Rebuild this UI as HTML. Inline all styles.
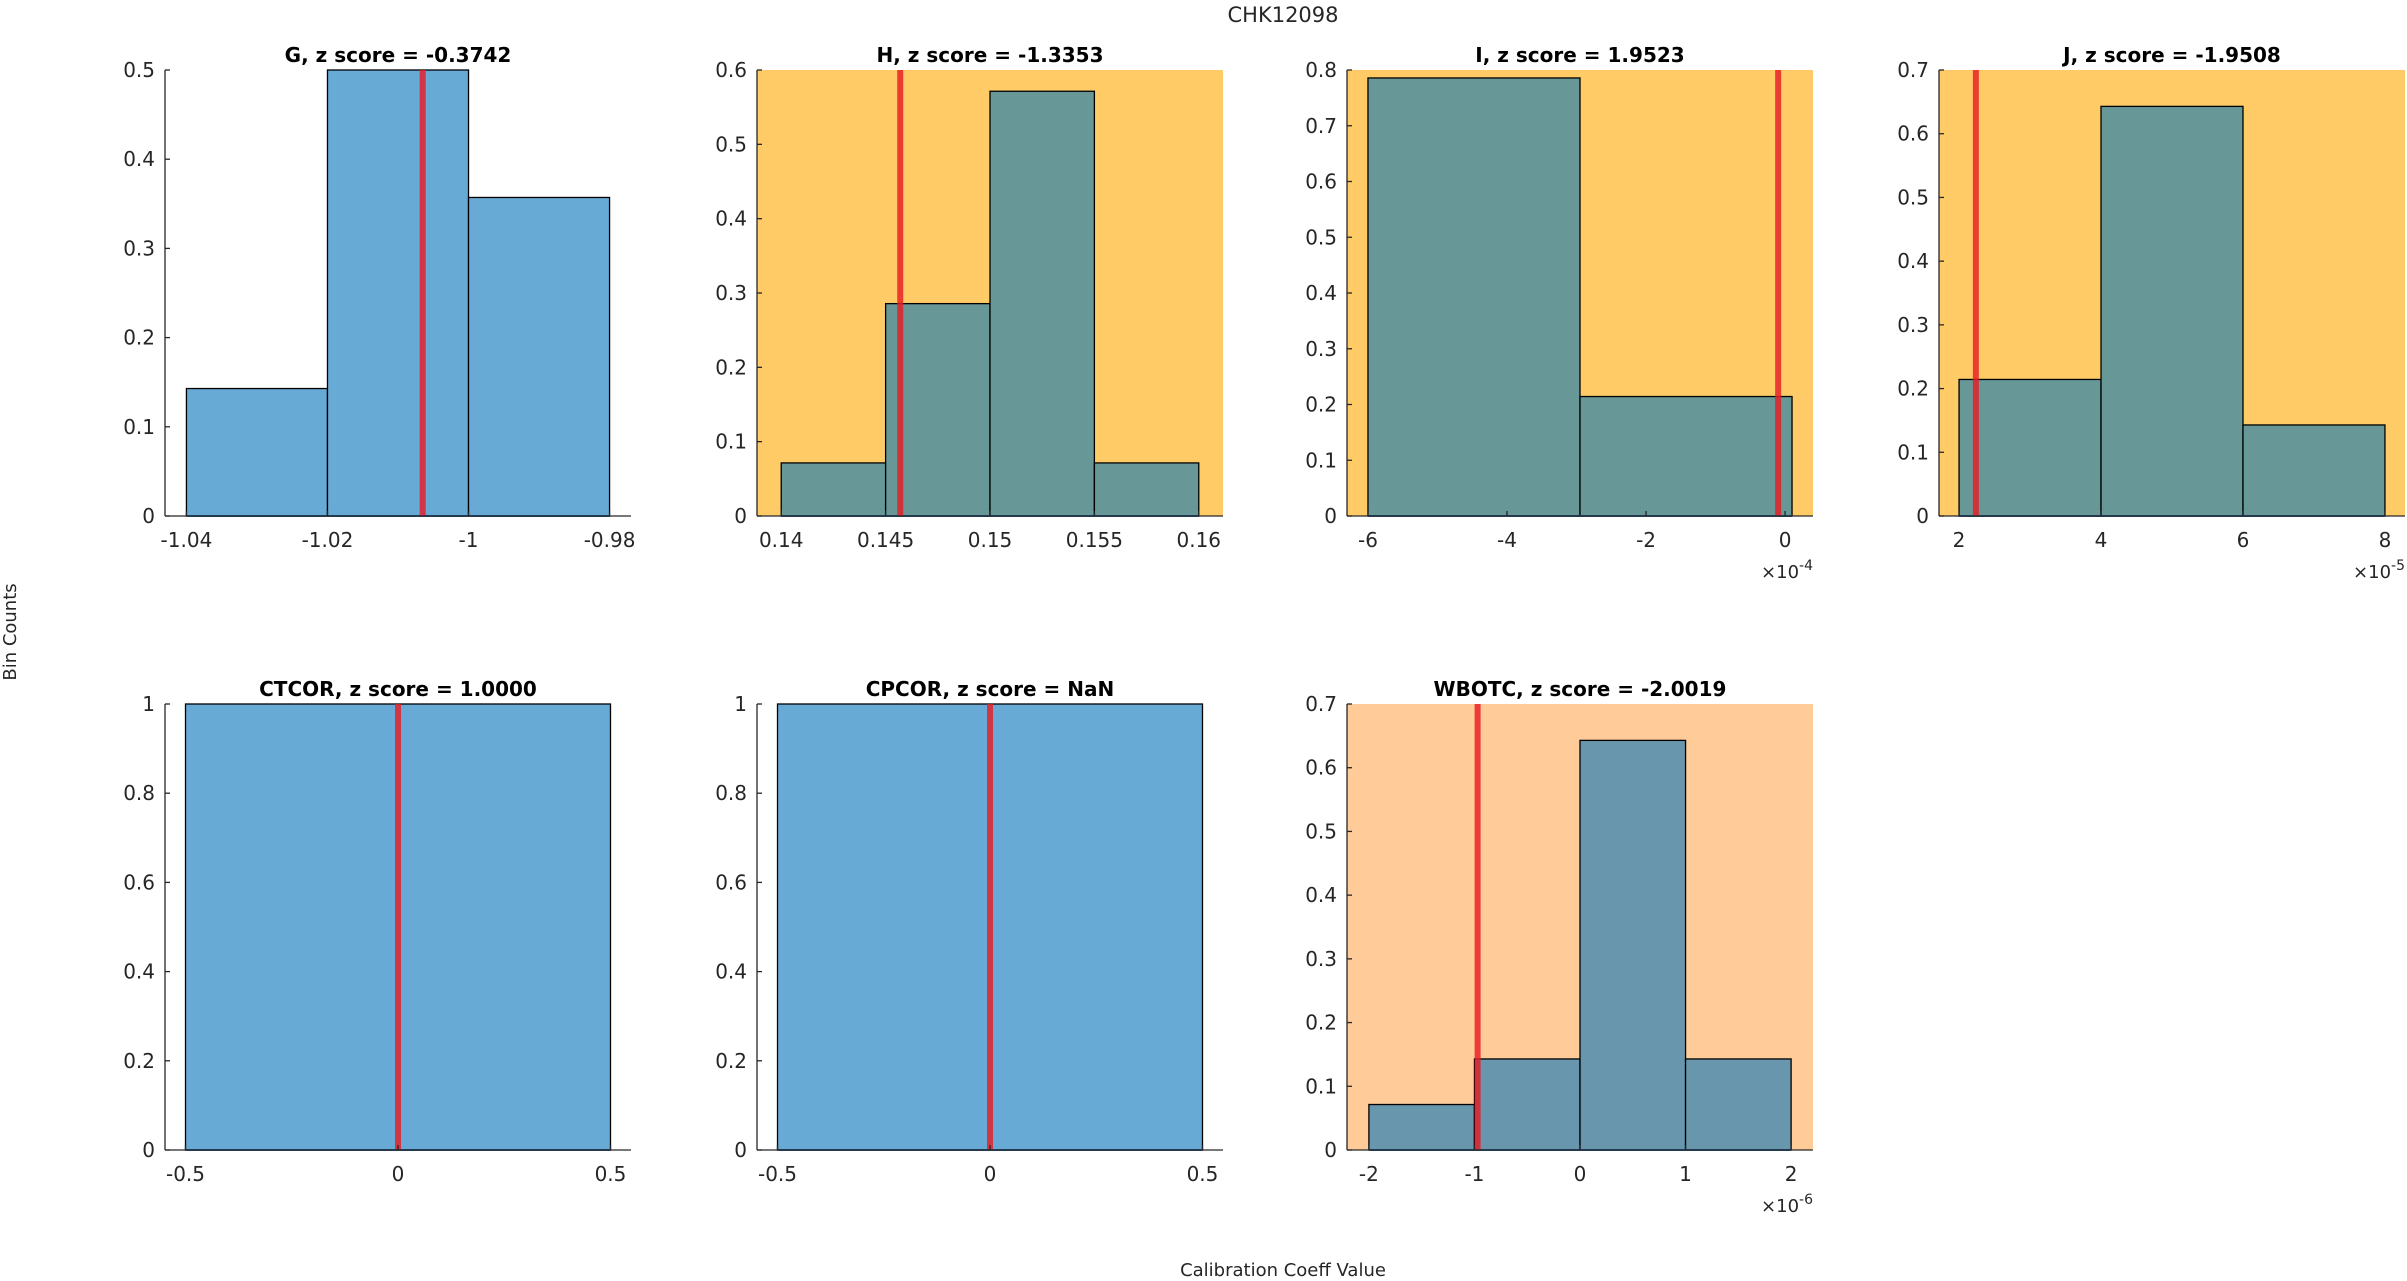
<!DOCTYPE html>
<html><head><meta charset="utf-8"><style>
body{margin:0;background:#fff;}
svg{display:block;font-family:"DejaVu Sans","Liberation Sans",sans-serif;}
</style></head><body>
<svg id="fig" width="2407" height="1281" viewBox="0 0 2407 1281">
<text x="1283" y="22" font-size="21" text-anchor="middle" fill="#262626">CHK12098</text>
<text transform="translate(16,632) rotate(-90)" font-size="18" text-anchor="middle" fill="#262626">Bin Counts</text>
<text x="1283" y="1276" font-size="18" text-anchor="middle" fill="#262626">Calibration Coeff Value</text>
</svg>
<script>
const names = ["G","H","I","J","CTCOR","CPCOR","WBOTC"];
const zscores = ["-0.3742","-1.3353","1.9523","-1.9508","1.0000","NaN","-2.0019"];
const binEdgesG = [-1.04,-1.02,-1.0,-0.98];
const countsG = [0.1429,0.5,0.3571];
const binEdgesH = [0.14,0.145,0.15,0.155,0.16];
const countsH = [0.0714,0.2857,0.5714,0.0714];
const binEdgesI = [-6.0e-4,-2.95e-4,0.1e-4];
const countsI = [0.7857,0.2143];
const binEdgesJ = [2e-5,4e-5,6e-5,8e-5];
const countsJ = [0.2143,0.6429,0.1429];
const binEdgesCT = [-0.5,0.5];
const countsCT = [1];
const binEdgesCP = [-0.5,0.5];
const countsCP = [1];
const binEdgesW = [-2e-6,-1e-6,0,1e-6,2e-6];
const countsW = [0.0714,0.1429,0.6429,0.1429];
const redValues = [-1.0065,0.1457,-0.1e-4,2.237e-5,0,0,-0.97e-6];
const xTicksG = [-1.04,-1.02,-1.0,-0.98];
const xTickLabelsG = ["-1.04","-1.02","-1","-0.98"];
const xTicksH = [0.14,0.145,0.15,0.155,0.16];
const xTickLabelsH = ["0.14","0.145","0.15","0.155","0.16"];
const xTicksI = [-6e-4,-4e-4,-2e-4,0];
const xTickLabelsI = ["-6","-4","-2","0"];
const xTicksJ = [2e-5,4e-5,6e-5,8e-5];
const xTickLabelsJ = ["2","4","6","8"];
const xTicksC = [-0.5,0,0.5];
const xTickLabelsC = ["-0.5","0","0.5"];
const xTicksW = [-2e-6,-1e-6,0,1e-6,2e-6];
const xTickLabelsW = ["-2","-1","0","1","2"];
const yMaxes = [0.5,0.6,0.8,0.7,1,1,0.7];
const yStep = [0.1,0.1,0.1,0.1,0.2,0.2,0.1];
const exponents = ["","","-4","-5","","","-6"];

const edgesAll=[binEdgesG,binEdgesH,binEdgesI,binEdgesJ,binEdgesCT,binEdgesCP,binEdgesW];
const countsAll=[countsG,countsH,countsI,countsJ,countsCT,countsCP,countsW];
const ticksAll=[xTicksG,xTicksH,xTicksI,xTicksJ,xTicksC,xTicksC,xTicksW];
const tickLabAll=[xTickLabelsG,xTickLabelsH,xTickLabelsI,xTickLabelsJ,xTickLabelsC,xTickLabelsC,xTickLabelsW];
const bgs=["#ffffff","#fecb66","#fecb66","#fecb66","#ffffff","#ffffff","#fecb99"];
const barCols=["#67aad6","#679797","#679797","#679797","#67aad6","#67aad6","#6796ad"];
const padFrac=[0.046,0.052,0.045,0.043,0.044,0.044,0.047];
const lefts=[165,757,1347,1939];
const tops=[70,704];
const W=466,H=446;
const svg=document.getElementById('fig');
const NS='http://www.w3.org/2000/svg';
function mk(tag,attrs,parent){const e=document.createElementNS(NS,tag);for(const k in attrs)e.setAttribute(k,attrs[k]);(parent||svg).appendChild(e);return e;}
function fmt(v){return (Math.round(v*10)/10).toString();}
for(let p=0;p<7;p++){
  const col=p%4,row=Math.floor(p/4);
  const x0=lefts[col],y0=tops[row];
  const edges=edgesAll[p],counts=countsAll[p];
  const lo=edges[0],hi=edges[edges.length-1],rng=hi-lo;
  const xmin=lo-padFrac[p]*rng/(1-2*padFrac[p]), xmax=hi+padFrac[p]*rng/(1-2*padFrac[p]);
  const sx=v=>x0+(v-xmin)/(xmax-xmin)*W;
  const sy=v=>y0+H-v/yMaxes[p]*H;
  const g=mk('g',{});
  
  
  const bg=mk('rect',{x:x0,y:y0,width:W,height:H,fill:bgs[p]},g);
  
  
  for(let i=0;i<counts.length;i++){
    const xa=sx(edges[i]),xb=sx(edges[i+1]),yt=sy(counts[i]);
    const r=mk('rect',{x:xa,y:yt,width:xb-xa,height:y0+H-yt,fill:barCols[p],stroke:'#000','stroke-width':1.3},g);
    
    
  }
  mk('line',{x1:sx(lo),x2:sx(hi),y1:y0+H,y2:y0+H,stroke:'#1f5f8f','stroke-width':2},g);
  const rl=mk('line',{x1:sx(redValues[p]),x2:sx(redValues[p]),y1:y0,y2:y0+H,stroke:'#e81c24','stroke-width':6,'stroke-opacity':0.82},g);
  
  
  mk('line',{x1:x0,x2:x0,y1:y0,y2:y0+H,stroke:'#262626','stroke-width':1.3},g);
  mk('line',{x1:x0,x2:x0+W,y1:y0+H,y2:y0+H,stroke:'#262626','stroke-width':1.3},g);
  const nY=Math.round(yMaxes[p]/yStep[p]);
  for(let k=0;k<=nY;k++){
    const v=k*yStep[p],y=sy(v);
    mk('line',{x1:x0,x2:x0+5,y1:y,y2:y,stroke:'#262626','stroke-width':1.3},g);
    const t=mk('text',{x:x0-10,y:y+7,'font-size':20,'text-anchor':'end',fill:'#262626'},g);
    t.textContent=k===0?'0':(v===1?'1':fmt(v));
    
    
  }
  const tk=ticksAll[p],tl=tickLabAll[p];
  for(let k=0;k<tk.length;k++){
    const x=sx(tk[k]);
    mk('line',{x1:x,x2:x,y1:y0+H,y2:y0+H-5,stroke:'#262626','stroke-width':1.3},g);
    const t=mk('text',{x:x,y:y0+H+31,'font-size':20,'text-anchor':'middle',fill:'#262626'},g);
    t.textContent=tl[k];
    
    
  }
  if(exponents[p]){
    const t=mk('text',{x:x0+W,y:y0+H+62,'font-size':18,'text-anchor':'end',fill:'#262626'},g);
    t.innerHTML='×10<tspan dy="-8" font-size="14">'+exponents[p]+'</tspan>';
    
    
  }
  const tt=mk('text',{x:x0+W/2,y:y0-8,'font-size':20,'font-weight':'bold','text-anchor':'middle',fill:'#000'},g);
  tt.textContent=names[p]+', z score = '+zscores[p];
  
  
}
</script>
</body></html>
